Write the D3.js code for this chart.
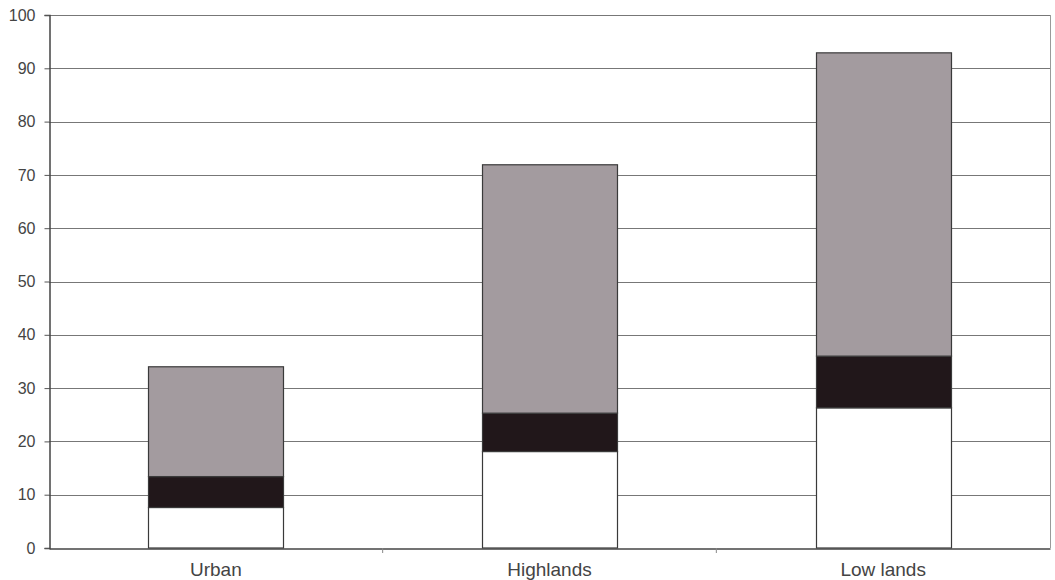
<!DOCTYPE html>
<html>
<head>
<meta charset="utf-8">
<script src="https://cdn.jsdelivr.net/npm/d3@7"></script>
<style>
  body { margin: 0; background: #fff; }
  text { font-family: "Liberation Sans", Arial, sans-serif; fill: #444; }
</style>
</head>
<body>
<div id="chart"></div>
<script>
const categories = ['Urban', 'Highlands', 'Low lands'];
const bottomValues = [7.6, 18.1, 26.3];
const middleValues = [5.8, 7.2, 9.7];
const topValues = [20.6, 46.6, 56.9];
const yTicks = [0, 10, 20, 30, 40, 50, 60, 70, 80, 90, 100];

const w = 1055, h = 580;
const margin = { top: 15, right: 5, bottom: 32, left: 49 };

const svg = d3.select('#chart').append('svg')
  .attr('width', w)
  .attr('height', h);

const xScale = d3.scaleBand()
  .domain(categories)
  .range([margin.left, w - margin.right])
  .paddingInner(0.595)
  .paddingOuter(0.2975);

const yScale = d3.scaleLinear()
  .domain([0, 100])
  .range([h - margin.bottom, margin.top]);

// gridlines
svg.append('g')
  .selectAll('line')
  .data(yTicks.filter(d => d > 0))
  .join('line')
  .attr('x1', margin.left)
  .attr('x2', w - margin.right)
  .attr('y1', d => Math.round(yScale(d)) + 0.5)
  .attr('y2', d => Math.round(yScale(d)) + 0.5)
  .attr('stroke', '#777')
  .attr('stroke-width', 1);

// right frame
svg.append('line')
  .attr('x1', w - margin.right + 0.5)
  .attr('x2', w - margin.right + 0.5)
  .attr('y1', yScale(100))
  .attr('y2', yScale(0))
  .attr('stroke', '#9a9a9a');

// stacked bars
const series = [
  { values: bottomValues, base: () => 0, fill: '#ffffff' },
  { values: middleValues, base: i => bottomValues[i], fill: '#21171a' },
  { values: topValues, base: i => bottomValues[i] + middleValues[i], fill: '#a39b9f' },
];

series.forEach(s => {
  svg.append('g')
    .selectAll('rect')
    .data(categories)
    .join('rect')
    .attr('x', d => Math.round(xScale(d)) + 0.5)
    .attr('width', Math.round(xScale.bandwidth()))
    .attr('y', (d, i) => yScale(s.base(i) + s.values[i]))
    .attr('height', (d, i) => yScale(s.base(i)) - yScale(s.base(i) + s.values[i]))
    .attr('fill', s.fill)
    .attr('stroke', '#3a3a3a')
    .attr('stroke-width', 1.2);
});

// y axis
const yAxis = d3.axisLeft(yScale).tickValues(yTicks).tickSize(5).tickPadding(9);
const gy = svg.append('g')
  .attr('transform', 'translate(' + (margin.left + 0.5) + ',0)')
  .call(yAxis);
gy.select('.domain').attr('stroke', '#444').attr('stroke-width', 1.5);
gy.selectAll('.tick line').attr('stroke', '#555');
gy.selectAll('.tick text')
  .style('font-size', '16px')
  .attr('fill', '#555');

// x axis
const xAxis = d3.axisBottom(xScale).tickSize(0).tickPadding(14);
const gx = svg.append('g')
  .attr('transform', 'translate(0,' + (yScale(0) + 0.5) + ')')
  .call(xAxis);
gx.select('.domain').attr('stroke', '#444').attr('stroke-width', 1.5);
gx.selectAll('.tick text')
  .style('font-size', '19px')
  .attr('fill', '#444');

// category separator ticks
const step = xScale.step();
svg.append('g')
  .selectAll('line')
  .data(categories.slice(1))
  .join('line')
  .attr('x1', d => xScale(d) - xScale.paddingInner() * step / 2)
  .attr('x2', d => xScale(d) - xScale.paddingInner() * step / 2)
  .attr('y1', yScale(0))
  .attr('y2', yScale(0) + 5)
  .attr('stroke', '#888');
</script>
</body>
</html>
